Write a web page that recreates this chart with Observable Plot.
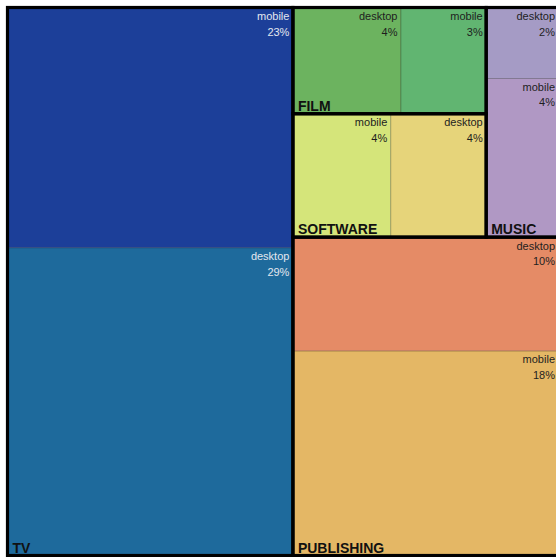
<!DOCTYPE html>
<html>
<head>
<meta charset="utf-8">
<script src="https://cdn.jsdelivr.net/npm/d3@7"></script>
<script src="https://cdn.jsdelivr.net/npm/@observablehq/plot@0.6"></script>
<style>
  html, body { margin: 0; padding: 0; background: #fff; overflow: hidden; }
  #chart svg { display: block; overflow: hidden; }
</style>
</head>
<body>
<div id="chart"></div>
<script>
// Data (share of total, %)
const groups  = ["TV", "TV", "PUBLISHING", "PUBLISHING", "SOFTWARE", "SOFTWARE", "FILM", "FILM", "MUSIC", "MUSIC"];
const devices = ["mobile", "desktop", "desktop", "mobile", "mobile", "desktop", "desktop", "mobile", "desktop", "mobile"];
const shares  = [22.7, 29.1, 10.0, 18.0, 4.0, 3.9, 3.8, 3.0, 1.7, 3.8];
const palette = ["#1c3f99", "#1e6a9c", "#e58b66", "#e4b765", "#d5e57a", "#e6d47a", "#6cb35f", "#61b571", "#a59bc5", "#b098c4"];

const rows = shares.map((v, i) => ({group: groups[i], device: devices[i], value: v, color: palette[i]}));
const groupNames = Array.from(new Set(groups));
const tree = {name: "root", children: groupNames.map(g => ({name: g, children: rows.filter(r => r.group === g)}))};

const W = 551, H = 548;
const root = d3.hierarchy(tree)
  .sum(d => d.value)
  .sort((a, b) => b.value - a.value);
d3.treemap().tile(d3.treemapSquarify.ratio(1)).size([W, H]).round(false)(root);

const leaves = root.leaves();
const tops = root.children;
const font = "Liberation Sans, Arial, Helvetica, sans-serif";
const textColor = d => d3.lab(d.data.color).l > 50 ? "#1e1e1e" : "#e3e7ef";

const chart = Plot.plot({
  width: 556,
  height: 557,
  margin: 0,
  x: {domain: [0, W], range: [7.5, 558.5], axis: null},
  y: {domain: [0, H], range: [555.5, 7.5], axis: null},
  marks: [
    Plot.rect(leaves, {
      x1: d => d.x0, x2: d => d.x1, y1: d => d.y0, y2: d => d.y1,
      fill: d => d.data.color,
      stroke: "#000", strokeOpacity: 0.22, strokeWidth: 1
    }),
    Plot.rect(tops, {
      x1: d => d.x0, x2: d => d.x1, y1: d => d.y0, y2: d => d.y1,
      fill: "none", stroke: "#000", strokeWidth: 3.2
    }),
    Plot.text(leaves, {
      x: d => d.x1, y: d => d.y1, text: d => d.data.device,
      textAnchor: "end", lineAnchor: "bottom", dx: -4, dy: 12,
      fontSize: 11, fontFamily: font, fill: textColor
    }),
    Plot.text(leaves, {
      x: d => d.x1, y: d => d.y1, text: d => Math.round(d.value) + "%",
      textAnchor: "end", lineAnchor: "bottom", dx: -4, dy: 27.5,
      fontSize: 11, fontFamily: font, fill: textColor
    }),
    Plot.text(tops, {
      x: d => d.x0, y: d => d.y0, text: d => d.data.name,
      textAnchor: "start", lineAnchor: "bottom", dx: 4.5, dy: -3.5,
      fontSize: 14, fontWeight: "bold", fontFamily: font, fill: "#111"
    })
  ]
});
document.getElementById("chart").appendChild(chart);
</script>
</body>
</html>
